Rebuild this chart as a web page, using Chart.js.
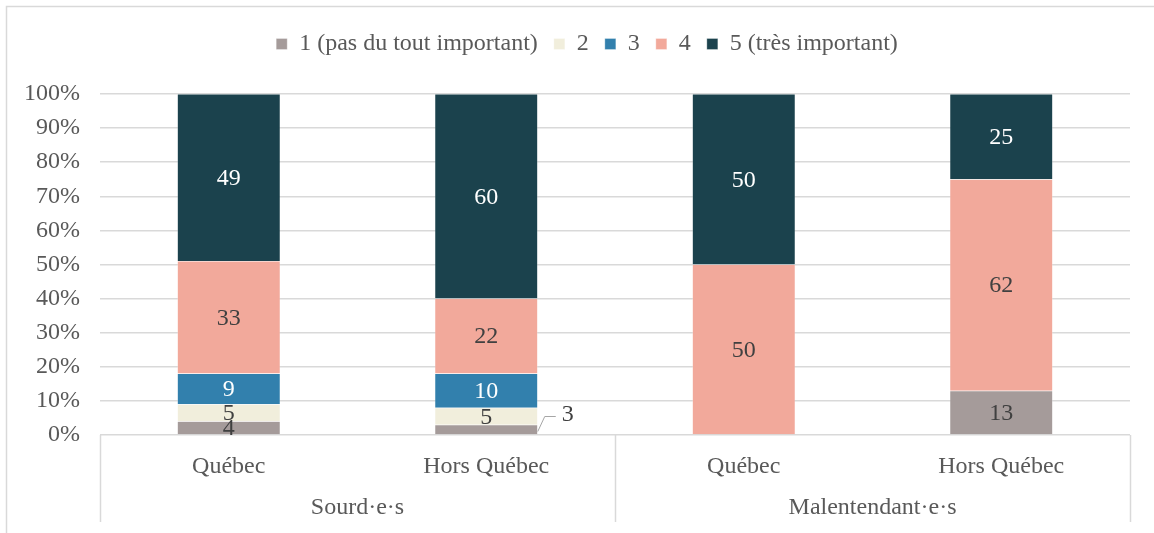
<!DOCTYPE html>
<html>
<head>
<meta charset="utf-8">
<script src="https://cdn.jsdelivr.net/npm/chart.js@4.4.0/dist/chart.umd.min.js"></script>
<style>
  html, body { margin: 0; padding: 0; background: #fff; }
  #wrap { width: 1154px; height: 533px; }
</style>
</head>
<body>
<div id="wrap"><canvas id="myChart" width="1154" height="533"></canvas></div>
<script>
// categories
var bars = ["Québec", "Hors Québec", "Québec", "Hors Québec"];
var groups = ["Sourd·e·s", "Malentendant·e·s"];
var seriesNames = ["1 (pas du tout important)", "2", "3", "4", "5 (très important)"];
// values in % per answer
var s1 = [4, 3, 0, 13];
var s2 = [5, 5, 0, 0];
var s3 = [9, 10, 0, 0];
var s4 = [33, 22, 50, 62];
var s5 = [49, 60, 50, 25];
var colors = ["#a59b9a", "#f1eedc", "#3280ad", "#f2a99b", "#1b424d"];
var labelColors = ["#404040", "#404040", "#ffffff", "#404040", "#ffffff"];
// labels placed outside the bar with a leader line: [dataset, index]
var outside = [[0, 1]];

const FONT = "'Liberation Serif', 'Times New Roman', serif";
const GREY = "#595959";

const datasets = [s1, s2, s3, s4, s5].map((d, i) => ({
  label: seriesNames[i],
  data: d,
  backgroundColor: colors[i],
  borderColor: "rgba(255,255,255,0.6)",
  borderWidth: 0.5,
  categoryPercentage: 1,
  barPercentage: 0.4,
}));

// frame around the whole chart + legend spacing
const framePlugin = {
  id: "frame",
  beforeUpdate(chart) {
    const lg = chart.legend;
    if (lg && !lg._patched) {
      const fit = lg.fit;
      lg.fit = function () {
        fit.call(this);
        this.height += 28;
      };
      lg._patched = true;
    }
  },
  afterLayout(chart) {
    // legend is centred a bit right of the canvas middle
    if (chart.legend) chart.legend.left = 44;
  },
  beforeDraw(chart) {
    const c = chart.ctx;
    c.save();
    c.fillStyle = "#fff";
    c.fillRect(0, 0, chart.width, chart.height);
    c.strokeStyle = "#d9d9d9";
    c.lineWidth = 1.5;
    c.strokeRect(6.5, 6.5, chart.width + 10, chart.height + 10);
    c.restore();
  }
};

// value labels in the segments
const valuePlugin = {
  id: "values",
  afterDatasetsDraw(chart) {
    const c = chart.ctx;
    c.save();
    c.font = "24px " + FONT;
    c.textAlign = "center";
    c.textBaseline = "middle";
    chart.data.datasets.forEach((ds, di) => {
      const meta = chart.getDatasetMeta(di);
      meta.data.forEach((el, i) => {
        const v = ds.data[i];
        if (!v) return;
        const isOut = outside.some(o => o[0] === di && o[1] === i);
        if (isOut) {
          const right = el.x + el.width / 2;
          const midY = (el.y + el.base) / 2;
          c.strokeStyle = "#a6a6a6";
          c.lineWidth = 1;
          c.beginPath();
          c.moveTo(right, midY + 2);
          c.lineTo(right + 7, midY - 13);
          c.lineTo(right + 18, midY - 13);
          c.stroke();
          c.fillStyle = "#404040";
          c.fillText(v, right + 30, midY - 15);
        } else {
          c.fillStyle = labelColors[di];
          c.fillText(v, el.x, (el.y + el.base) / 2 + 1);
        }
      });
    });
    c.restore();
  }
};

// group labels and separators under the x axis
const groupPlugin = {
  id: "groups",
  afterDraw(chart) {
    const c = chart.ctx;
    const x = chart.scales.x;
    const area = chart.chartArea;
    const mid = (x.getPixelForValue(1) + x.getPixelForValue(2)) / 2;
    const lines = [area.left, mid, area.right];
    c.save();
    c.strokeStyle = "#d9d9d9";
    c.lineWidth = 1.5;
    lines.forEach(px => {
      c.beginPath();
      c.moveTo(Math.round(px) + 0.5, area.bottom);
      c.lineTo(Math.round(px) + 0.5, 522);
      c.stroke();
    });
    c.font = "24px " + FONT;
    c.fillStyle = GREY;
    c.textAlign = "center";
    c.textBaseline = "middle";
    c.fillText(groups[0], (area.left + mid) / 2, 508);
    c.fillText(groups[1], (mid + area.right) / 2, 508);
    c.restore();
  }
};

const ctx = document.getElementById("myChart").getContext("2d");
const myChart = new Chart(ctx, {
  type: "bar",
  data: { labels: bars, datasets: datasets },
  plugins: [framePlugin, valuePlugin, groupPlugin],
  options: {
    responsive: false,
    animation: false,
    layout: { padding: { top: 16, left: 0, right: 24, bottom: 0 } },
    plugins: {
      tooltip: { enabled: false },
      legend: {
        position: "top",
        labels: {
          boxWidth: 11,
          boxHeight: 11,
          padding: 16,
          color: GREY,
          font: { family: FONT, size: 24 }
        }
      }
    },
    scales: {
      x: {
        stacked: true,
        grid: { display: false },
        border: { display: false },
        ticks: { color: GREY, font: { family: FONT, size: 24 }, padding: 9 },
        afterFit(scale) { scale.height = 98; }
      },
      y: {
        stacked: true,
        min: 0,
        max: 100,
        grid: { color: "#d9d9d9", lineWidth: 1.5, drawTicks: false },
        border: { display: false },
        ticks: {
          stepSize: 10,
          color: GREY,
          padding: 20,
          font: { family: FONT, size: 24 },
          callback: v => v + "%"
        },
        afterFit(scale) { scale.width = 100; }
      }
    }
  }
});
</script>
</body>
</html>
